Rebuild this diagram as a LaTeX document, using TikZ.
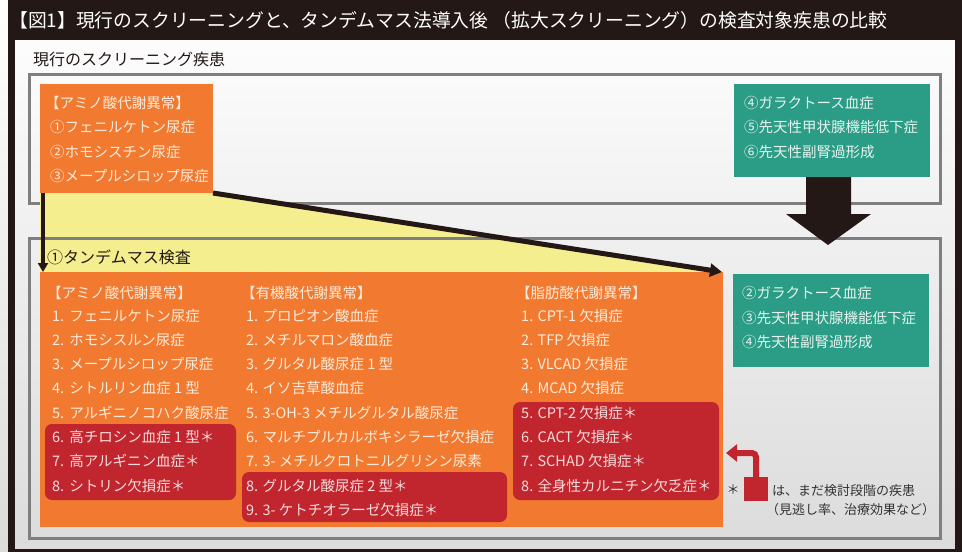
\documentclass[tikz,border=0pt]{standalone}
\usepackage{fontspec}
\setmainfont{Noto Sans CJK JP}
\usetikzlibrary{arrows.meta}

\definecolor{framedark}{HTML}{231815}
\definecolor{boxorange}{HTML}{F27A30}
\definecolor{boxred}{HTML}{C1262F}
\definecolor{boxteal}{HTML}{2B9C86}
\definecolor{bandyellow}{HTML}{F4EE8F}
\definecolor{boxgray}{HTML}{7F7F7F}
\definecolor{textcream}{HTML}{FCEBDB}
\definecolor{textmint}{HTML}{E6F3EE}
\definecolor{textpink}{HTML}{F6DCDC}

\begin{document}
\begin{tikzpicture}[x=1pt,y=-1pt,
    panel/.style={anchor=north west,inner sep=0pt,outer sep=0pt},
    gbox/.style={panel,draw=boxgray,line width=3pt},
    item/.style={anchor=west,inner sep=0pt,font=\fontsize{14.5}{16}\selectfont},
    head/.style={anchor=west,inner sep=0pt,text=framedark,font=\fontsize{16}{18}\selectfont},
    note/.style={anchor=west,inner sep=0pt,text=black!80,font=\fontsize{13}{15}\selectfont}]
    \useasboundingbox (0,0) rectangle (962,552);

    % background and frame
    \shade[top color=white,bottom color=black!14] (0,0) rectangle (962,552);
    \fill[framedark] (8,0) rectangle (962,40);
    \fill[framedark] (8,40) rectangle (15,552);
    \fill[framedark] (955,40) rectangle (962,552);
    \fill[framedark] (8,549) rectangle (962,552);
    \node[anchor=west,inner sep=0pt,text=white,font=\fontsize{18.8}{22}\selectfont] (title) at (9,20)
        {【図1】現行のスクリーニングと、タンデムマス法導入後 （拡大スクリーニング）の検査対象疾患の比較};

    % current screening
    \node[head] (curhead) at (33,59) {現行のスクリーニング疾患};
    \node[gbox,minimum width=911pt,minimum height=129pt] (current) at (29,74) {};
    \node[panel,fill=boxorange,minimum width=173pt,minimum height=109pt] (amino) at (40,84) {};
    \node[panel,fill=boxteal,minimum width=196pt,minimum height=93pt] (otherold) at (734,84) {};

    \node[item,text=textcream] (aminohead) at (45,103) {【アミノ酸代謝異常】};
    \node[item,text=textcream] (amino1) at (50,127) {①フェニルケトン尿症};
    \node[item,text=textcream] (amino2) at (50,152) {②ホモシスチン尿症};
    \node[item,text=textcream] (amino3) at (50,176) {③メープルシロップ尿症};

    \node[item,text=textmint] (old4) at (744,103) {④ガラクトース血症};
    \node[item,text=textmint] (old5) at (744,127) {⑤先天性甲状腺機能低下症};
    \node[item,text=textmint] (old6) at (744,152) {⑥先天性副腎過形成};

    % tandem mass
    \coordinate (tip) at (722,272);
    \fill[bandyellow] (amino.south west) -- (amino.south east) -- (tip) -- (tip -| amino.south west) -- cycle;
    \node[gbox,minimum width=911pt,minimum height=300pt] (tandembox) at (29,238) {};
    \node[head] (tandemhead) at (47,257) {①タンデムマス検査};

    \node[panel,fill=boxorange,minimum width=683pt,minimum height=255pt] (tandem) at (40,272) {};
    \node[panel,fill=boxred,rounded corners=7pt,minimum width=191pt,minimum height=76pt] (redamino) at (45,424) {};
    \node[panel,fill=boxred,rounded corners=7pt,minimum width=265pt,minimum height=50pt] (redorganic) at (242,472) {};
    \node[panel,fill=boxred,rounded corners=7pt,minimum width=206pt,minimum height=98pt] (redfatty) at (513,402) {};
    \node[panel,fill=boxteal,minimum width=196pt,minimum height=93pt] (othernew) at (733,274) {};

    \node[item,text=textcream] (aahead) at (47,293) {【アミノ酸代謝異常】};
    \node[item,text=textcream] (aa1) at (52,316) {1.\hspace{5pt}フェニルケトン尿症};
    \node[item,text=textcream] (aa2) at (52,340) {2.\hspace{5pt}ホモシスルン尿症};
    \node[item,text=textcream] (aa3) at (52,364) {3.\hspace{5pt}メープルシロップ尿症};
    \node[item,text=textcream] (aa4) at (52,388) {4.\hspace{5pt}シトルリン血症 1 型};
    \node[item,text=textcream] (aa5) at (52,413) {5.\hspace{5pt}アルギニノコハク酸尿症};
    \node[item,text=textpink] (aa6) at (52,437) {6.\hspace{5pt}高チロシン血症 1 型＊};
    \node[item,text=textpink] (aa7) at (52,461) {7.\hspace{5pt}高アルギニン血症＊};
    \node[item,text=textpink] (aa8) at (52,486) {8.\hspace{5pt}シトリン欠損症＊};

    \node[item,text=textcream] (oahead) at (241,293) {【有機酸代謝異常】};
    \node[item,text=textcream] (oa1) at (246,316) {1. プロピオン酸血症};
    \node[item,text=textcream] (oa2) at (246,340) {2. メチルマロン酸血症};
    \node[item,text=textcream] (oa3) at (246,364) {3. グルタル酸尿症 1 型};
    \node[item,text=textcream] (oa4) at (246,388) {4. イソ吉草酸血症};
    \node[item,text=textcream] (oa5) at (246,413) {5. 3-OH-3 メチルグルタル酸尿症};
    \node[item,text=textcream] (oa6) at (246,437) {6. マルチプルカルボキシラーゼ欠損症};
    \node[item,text=textcream] (oa7) at (246,461) {7. 3- メチルクロトニルグリシン尿素};
    \node[item,text=textpink] (oa8) at (246,486) {8. グルタル酸尿症 2 型＊};
    \node[item,text=textpink] (oa9) at (246,510) {9. 3- ケトチオラーゼ欠損症＊};

    \node[item,text=textcream] (fahead) at (516,293) {【脂肪酸代謝異常】};
    \node[item,text=textcream] (fa1) at (521,316) {1. CPT-1 欠損症};
    \node[item,text=textcream] (fa2) at (521,340) {2. TFP 欠損症};
    \node[item,text=textcream] (fa3) at (521,364) {3. VLCAD 欠損症};
    \node[item,text=textcream] (fa4) at (521,388) {4. MCAD 欠損症};
    \node[item,text=textpink] (fa5) at (521,413) {5. CPT-2 欠損症＊};
    \node[item,text=textpink] (fa6) at (521,437) {6. CACT 欠損症＊};
    \node[item,text=textpink] (fa7) at (521,461) {7. SCHAD 欠損症＊};
    \node[item,text=textpink] (fa8) at (521,486) {8. 全身性カルニチン欠乏症＊};

    \node[item,text=textmint] (new2) at (742,293) {②ガラクトース血症};
    \node[item,text=textmint] (new3) at (742,318) {③先天性甲状腺機能低下症};
    \node[item,text=textmint] (new4) at (742,342) {④先天性副腎過形成};

    % arrows
    \draw[framedark,line width=4pt,-{Triangle[length=9pt,width=10pt]}]
        ([xshift=3pt]amino.south west) -- ([xshift=3pt]amino.south west |- tandem.north);
    \draw[framedark,line width=5pt,-{Triangle[length=12pt,width=13pt]}] (amino.south east) -- (tip);
    \fill[framedark] (806,177) -- (851,177) -- (851,214) -- (871,214) -- (828,245)
        -- (786,214) -- (806,214) -- cycle;

    % legend
    \node[panel,fill=boxred,minimum size=24pt] (legsq) at (744,477) {};
    \coordinate (legtip) at (726,453);
    \draw[boxred,line width=6pt,rounded corners=4pt,-{Triangle[length=11pt,width=17pt]}] (legsq.north) |- (legtip);
    \node[note,anchor=center] (legstar) at (733,490) {＊};
    \node[note] (legtext) at (772,491) {は、まだ検討段階の疾患};
    \node[note] (legsub) at (766,510) {（見逃し率、治療効果など）};
\end{tikzpicture}
\end{document}
